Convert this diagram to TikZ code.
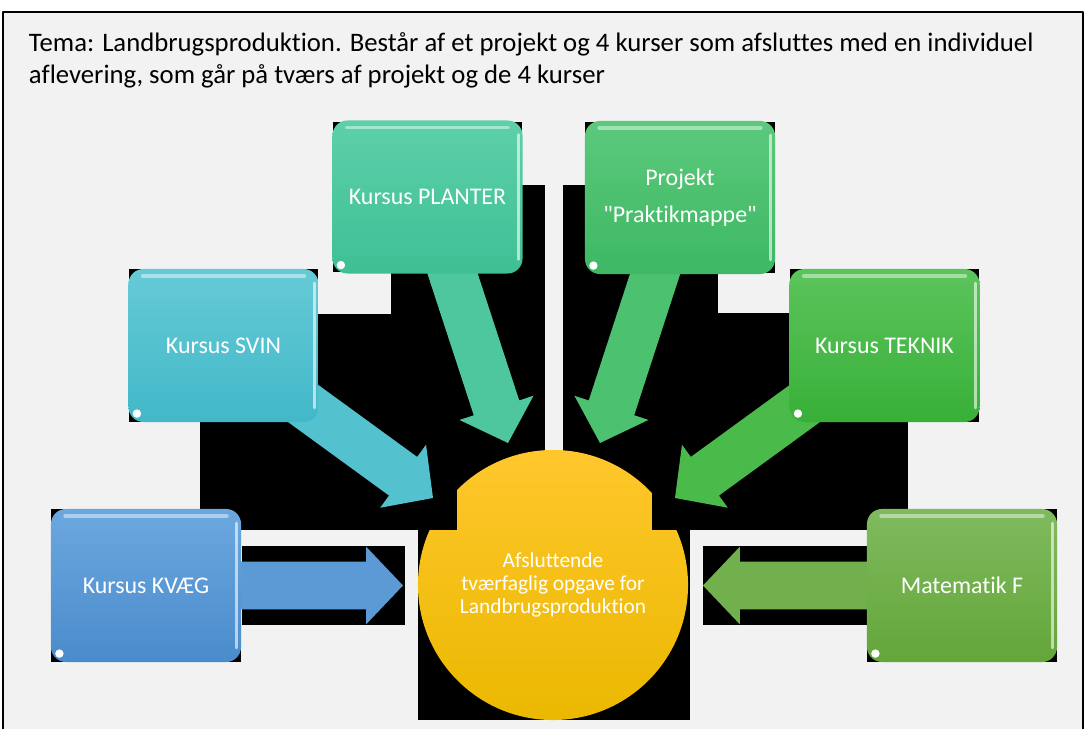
\documentclass[tikz,border=0pt]{standalone}
\usepackage{fontspec}
\setmainfont{Carlito}[Ligatures={CommonOff,TeXOff}]
\usetikzlibrary{calc}

\definecolor{baggrund}{HTML}{F2F2F2}
\definecolor{kvaegtop}{HTML}{6CA8DF}
\definecolor{kvaegbund}{HTML}{4A8BCB}
\definecolor{svintop}{HTML}{66CAD6}
\definecolor{svinbund}{HTML}{42B8C8}
\definecolor{plantertop}{HTML}{5DD0AA}
\definecolor{planterbund}{HTML}{3FBF95}
\definecolor{praktiktop}{HTML}{5CC97C}
\definecolor{praktikbund}{HTML}{3DB863}
\definecolor{tekniktop}{HTML}{5CC45C}
\definecolor{teknikbund}{HTML}{38B038}
\definecolor{mattop}{HTML}{80BA5E}
\definecolor{matbund}{HTML}{63A63A}
\definecolor{opgavetop}{HTML}{FFC72C}
\definecolor{opgavebund}{HTML}{EBB800}

% blokpil: fra, til, farve
\newcommand{\blokpil}[3]{%
  \coordinate (hals) at ($(#2)!26.3pt!(#1)$);
  \fill[#3] ($(#1)!17pt!90:(#2)$) -- ($(hals)!17pt!90:(#2)$) -- ($(hals)!27.7pt!90:(#2)$) -- (#2)
    -- ($(hals)!27.7pt!-90:(#2)$) -- ($(hals)!17pt!-90:(#2)$) -- ($(#1)!17pt!-90:(#2)$) -- cycle;}

\begin{document}
\begin{tikzpicture}[x=0.025cm,y=-0.025cm,line cap=round,line join=round,
  boks/.style 2 args={rounded corners=0.375cm,minimum width=4.75cm,minimum height=3.825cm,
    inner sep=2pt,top color=#1,bottom color=#2,text=white,align=center,
    font=\fontsize{17}{26}\selectfont,
    path picture={
      \draw[white,opacity=.45,line width=2.5pt]
        ([xshift=10pt,yshift=-5pt]path picture bounding box.north west)
        -- ([xshift=-10pt,yshift=-5pt]path picture bounding box.north east);
      \draw[white,opacity=.6,line width=2pt]
        ([xshift=-3pt,yshift=-10pt]path picture bounding box.north east)
        -- ([xshift=-3pt,yshift=10pt]path picture bounding box.south east);
      \fill[white] ([xshift=6pt,yshift=6pt]path picture bounding box.south west) circle (3pt);}}]
\useasboundingbox (0,0) rectangle (1086,729);
\fill[white] (0,0) rectangle (1086,729);
\fill[baggrund] (3,12) rectangle (1083,729);
\draw[line width=0.8pt] (3,729) -- (3,12) -- (1083,12) -- (1083,729);
\node[anchor=north west,align=left,font=\fontsize{19}{22.5}\selectfont] (tema) at (24,28)
  {Tema: Landbrugsproduktion. Består af et projekt og 4 kurser som afsluttes med en individuel\\
   aflevering, som går på tværs af projekt og de 4 kurser};
% sorte felter
\fill[black] (51,509) rectangle (241,662);
\fill[black] (129,269) rectangle (318,422);
\fill[black] (333,122) rectangle (522,272);
\fill[black] (585,122) rectangle (775,273);
\fill[black] (790,269) rectangle (979,422);
\fill[black] (867,509) rectangle (1057,662);
\fill[black] (522,185) rectangle (545,273);
\fill[black] (391,272) rectangle (545,314);
\fill[black] (318,314) rectangle (545,422);
\fill[black] (200,422) rectangle (545,530);
\fill[black] (563,185) rectangle (775,273);
\fill[black] (563,273) rectangle (718,313);
\fill[black] (563,313) rectangle (790,422);
\fill[black] (563,422) rectangle (908,530);
\fill[black] (242,546) rectangle (405,625);
\fill[black] (703,546) rectangle (867,625);
\fill[black] (418,530) rectangle (690,720);
% midten
\node[circle,minimum size=6.75cm,inner sep=0pt,top color=opgavetop,bottom color=opgavebund,
  text=white,align=center,font=\fontsize{15.2}{16.5}\selectfont] (opgave) at (553,585)
  {Afsluttende\\tværfaglig opgave for\\Landbrugsproduktion};
\fill[black] (418,440) rectangle (457,530);
\fill[black] (652,440) rectangle (690,530);
% pile
\coordinate (kvaeg-c) at (146,585.5);
\coordinate (svin-c) at (223.5,345.5);
\coordinate (planter-c) at (427.5,197);
\coordinate (praktik-c) at (680,197.5);
\coordinate (teknik-c) at (884.5,345.5);
\coordinate (mat-c) at (962,585.5);
\coordinate (kvaeg-spids) at (403,585.5);
\coordinate (svin-spids) at (433,498);
\coordinate (planter-spids) at (508,443);
\coordinate (praktik-spids) at (600,443);
\coordinate (teknik-spids) at (675,498);
\coordinate (mat-spids) at (703,585.5);
\blokpil{kvaeg-c}{kvaeg-spids}{kvaegtop!50!kvaegbund}
\blokpil{svin-c}{svin-spids}{svintop!50!svinbund}
\blokpil{planter-c}{planter-spids}{plantertop!50!planterbund}
\blokpil{praktik-c}{praktik-spids}{praktiktop!50!praktikbund}
\blokpil{teknik-c}{teknik-spids}{tekniktop!50!teknikbund}
\blokpil{mat-c}{mat-spids}{mattop!50!matbund}
% kasser
\node[boks={kvaegtop}{kvaegbund}] (kvaeg) at (kvaeg-c) {Kursus KVÆG};
\node[boks={svintop}{svinbund}] (svin) at (svin-c) {Kursus SVIN};
\node[boks={plantertop}{planterbund}] (planter) at (planter-c) {Kursus PLANTER};
\node[boks={praktiktop}{praktikbund}] (praktik) at (praktik-c) {Projekt\\"Praktikmappe"};
\node[boks={tekniktop}{teknikbund}] (teknik) at (teknik-c) {Kursus TEKNIK};
\node[boks={mattop}{matbund}] (mat) at (mat-c) {Matematik F};
\end{tikzpicture}
\end{document}
